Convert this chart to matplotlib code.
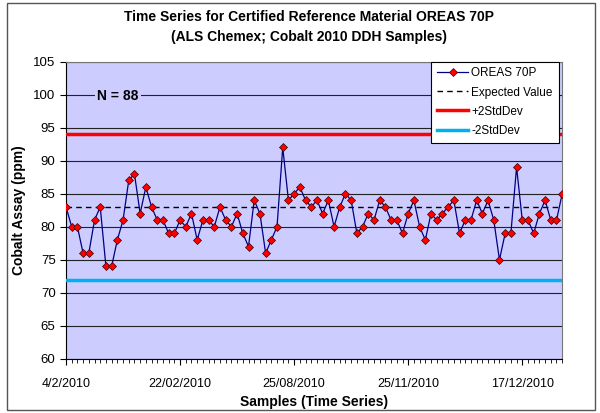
import matplotlib.pyplot as plt
import numpy as np
from matplotlib.patches import Rectangle

plt.rcParams['font.family'] = ['Liberation Sans', 'DejaVu Sans']

# =============================================================================
# Data
# =============================================================================

cobalt_ppm = [
    83, 80, 80, 76, 76, 81, 83, 74, 74, 78,
    81, 87, 88, 82, 86, 83, 81, 81, 79, 79,
    81, 80, 82, 78, 81, 81, 80, 83, 81, 80,
    82, 79, 77, 84, 82, 76, 78, 80, 92, 84,
    85, 86, 84, 83, 84, 82, 84, 80, 83, 85,
    84, 79, 80, 82, 81, 84, 83, 81, 81, 79,
    82, 84, 80, 78, 82, 81, 82, 83, 84, 79,
    81, 81, 84, 82, 84, 81, 75, 79, 79, 89,
    81, 81, 79, 82, 84, 81, 81, 85,
]
expected_value = 83.0
plus_2sd = 94.0
minus_2sd = 72.0

date_ticks = [0, 20, 40, 60, 80]
date_labels = ['4/2/2010', '22/02/2010', '25/08/2010', '25/11/2010', '17/12/2010']

# =============================================================================
# Plot
# =============================================================================

fig = plt.figure(figsize=(6.0, 4.13), dpi=100)
fig.patch.set_facecolor('white')
# chart border
fig.patches.append(Rectangle((0.012, 0.008), 0.98, 0.984, transform=fig.transFigure,
                             fill=False, edgecolor='#555555', linewidth=1.0))

ax = fig.add_axes([0.11, 0.131, 0.827, 0.72])
ax.set_facecolor('#CCCCFF')

x = np.arange(len(cobalt_ppm))
n = len(cobalt_ppm)

ax.plot(x, cobalt_ppm, color='#000080', linewidth=0.9, marker='D', markersize=4.2,
        markerfacecolor='#FF0000', markeredgecolor='#400000', markeredgewidth=0.5,
        label='OREAS 70P', zorder=5)
ax.axhline(expected_value, color='black', linestyle=(0, (4, 3)), linewidth=1.0,
           label='Expected Value', zorder=3)
ax.axhline(plus_2sd, color='#FF0000', linewidth=2.5, label='+2StdDev', zorder=3)
ax.axhline(minus_2sd, color='#00B0F0', linewidth=2.5, label='-2StdDev', zorder=3)

ax.set_xlim(0, n - 1)
ax.set_ylim(60, 105)
ax.set_yticks(np.arange(60, 106, 5))
ax.yaxis.grid(True, color='#222222', linewidth=0.8)
ax.set_axisbelow(True)

ax.set_xticks(date_ticks)
ax.set_xticklabels(date_labels)
ax.set_xticks(x, minor=True)
ax.tick_params(axis='x', which='major', length=4, width=0.8, pad=10, labelsize=9)
ax.tick_params(axis='x', which='minor', length=3, width=0.6)
ax.tick_params(axis='y', length=4, width=0.8, labelsize=9.5)

for side in ['left', 'bottom']:
    ax.spines[side].set_color('black')
for side in ['right', 'top']:
    ax.spines[side].set_color('#777777')

ax.set_ylabel('Cobalt Assay (ppm)', fontsize=10, fontweight='bold', labelpad=5)
ax.set_xlabel('Samples (Time Series)', fontsize=10, fontweight='bold', labelpad=3)

fig.text(0.515, 0.958, 'Time Series for Certified Reference Material OREAS 70P',
         ha='center', va='center', fontsize=10, fontweight='bold')
fig.text(0.515, 0.91, '(ALS Chemex; Cobalt 2010 DDH Samples)',
         ha='center', va='center', fontsize=10, fontweight='bold')

ax.text(0.105, 0.885, f'N = {n}', transform=ax.transAxes, ha='center', va='center',
        fontsize=10, fontweight='bold',
        bbox=dict(facecolor='#CCCCFF', edgecolor='none', pad=1.5), zorder=6)

leg = ax.legend(loc='upper right', bbox_to_anchor=(0.993, 1.0), borderaxespad=0,
                fontsize=8.5, frameon=True, fancybox=False, framealpha=1.0,
                edgecolor='black', handlelength=2.6, handletextpad=0.3,
                borderpad=0.5, labelspacing=0.6)
leg.get_frame().set_linewidth(0.8)
leg.set_zorder(10)

fig.savefig('out.png', dpi=100)
